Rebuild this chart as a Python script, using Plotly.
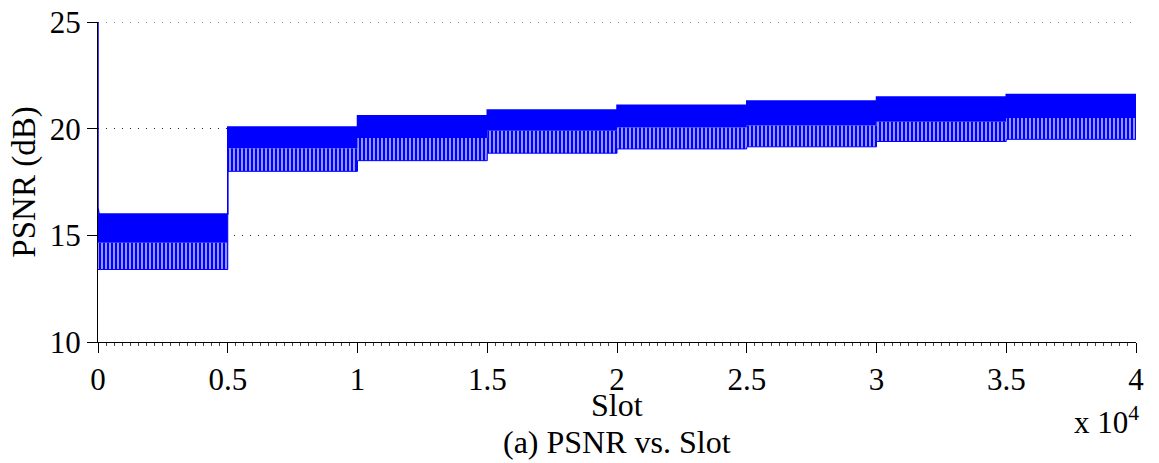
import plotly.graph_objects as go

# Segment boundaries (slots) and envelope values (dB)
seg_start = [0, 5000, 10000, 15000, 20000, 25000, 30000, 35000]
seg_end = 40000
top_env = [16.0, 20.08, 20.6, 20.87, 21.1, 21.3, 21.48, 21.6]        # upper edge of dense band
dense_low = [14.65, 19.08, 19.56, 19.9, 20.05, 20.15, 20.33, 20.5]   # lower edge of dense band
comb_low = [13.4, 18.0, 18.5, 18.85, 19.05, 19.15, 19.4, 19.5]       # lower tips of oscillation

spike_x = [0, 0, 40]
spike_y = [25.0, 16.3, 16.0]

x_tickvals = [0, 5000, 10000, 15000, 20000, 25000, 30000, 35000, 40000]
x_ticktext = ["0", "0.5", "1", "1.5", "2", "2.5", "3", "3.5", "4"]
y_tickvals = [10, 15, 20, 25]

xs = seg_start + [seg_end]
blue = "#0000ff"
font = "Liberation Serif"
fs_tick = 31
fs_title = 32

fig = go.Figure()
fig.add_trace(go.Scatter(x=xs, y=comb_low + [comb_low[-1]], mode="lines", line_shape="hv",
                         line=dict(color=blue, width=1), hoverinfo="skip", showlegend=False))
fig.add_trace(go.Scatter(x=xs, y=dense_low + [dense_low[-1]], mode="lines", line_shape="hv",
                         line=dict(color=blue, width=0), fill="tonexty",
                         fillpattern=dict(shape="|", size=4, solidity=0.55,
                                          fgcolor=blue, bgcolor="#a4a4ff", fillmode="replace"),
                         hoverinfo="skip", showlegend=False))
fig.add_trace(go.Scatter(x=xs, y=top_env + [top_env[-1]], mode="lines", line_shape="hv",
                         line=dict(color=blue, width=1.5), fill="tonexty", fillcolor=blue,
                         hoverinfo="skip", showlegend=False))
fig.add_trace(go.Scatter(x=spike_x, y=spike_y, mode="lines",
                         line=dict(color=blue, width=1.5), hoverinfo="skip", showlegend=False))

fig.update_layout(
    width=1159, height=463,
    margin=dict(l=98, r=23, t=22, b=121),
    paper_bgcolor="white", plot_bgcolor="white",
    font=dict(family=font, size=fs_tick, color="black"),
    showlegend=False,
    xaxis=dict(range=[0, 40000], tickvals=x_tickvals, ticktext=x_ticktext,
               ticks="outside", ticklen=10, tickwidth=1, tickcolor="black",
               showline=True, linecolor="black", linewidth=1,
               showgrid=False, zeroline=False, automargin=False,
               tickfont=dict(family=font, size=fs_tick),
               minor=dict(dtick=312.5, ticks="outside", ticklen=3, tickcolor="#444", showgrid=False)),
    yaxis=dict(range=[10, 25], tickvals=y_tickvals,
               ticks="outside", ticklen=10, tickwidth=1, tickcolor="black",
               showline=True, linecolor="black", linewidth=1,
               showgrid=True, gridcolor="#222", gridwidth=1, griddash="1px,7px",
               zeroline=False, layer="above traces", automargin=False,
               tickfont=dict(family=font, size=fs_tick),
               title=dict(text="PSNR (dB)", font=dict(family=font, size=33), standoff=4)),
)

# dotted gridline at the top tick (Plotly omits the grid at the range edge)
fig.add_shape(type="line", xref="paper", x0=0, x1=1, yref="y",
              y0=y_tickvals[-1], y1=y_tickvals[-1],
              line=dict(color="#222", width=1, dash="1px,7px"))

plot_h = 463 - 22 - 121
plot_w = 1159 - 98 - 23
def py(ypix):
    return (463 - 121 - ypix) / plot_h
def px(xpix):
    return (xpix - 98) / plot_w

fig.add_annotation(text="Slot", x=px(617), xref="paper", y=py(405), yref="paper",
                   xanchor="center", yanchor="middle", showarrow=False,
                   font=dict(family=font, size=fs_title))
fig.add_annotation(text="(a) PSNR vs. Slot", x=px(617), xref="paper", y=py(442), yref="paper",
                   xanchor="center", yanchor="middle", showarrow=False,
                   font=dict(family=font, size=fs_title))
fig.add_annotation(text="x 10<sup>4</sup>", x=px(1106), xref="paper", y=py(420), yref="paper",
                   xanchor="center", yanchor="middle", showarrow=False,
                   font=dict(family=font, size=fs_tick))

fig.write_html("out.html")
